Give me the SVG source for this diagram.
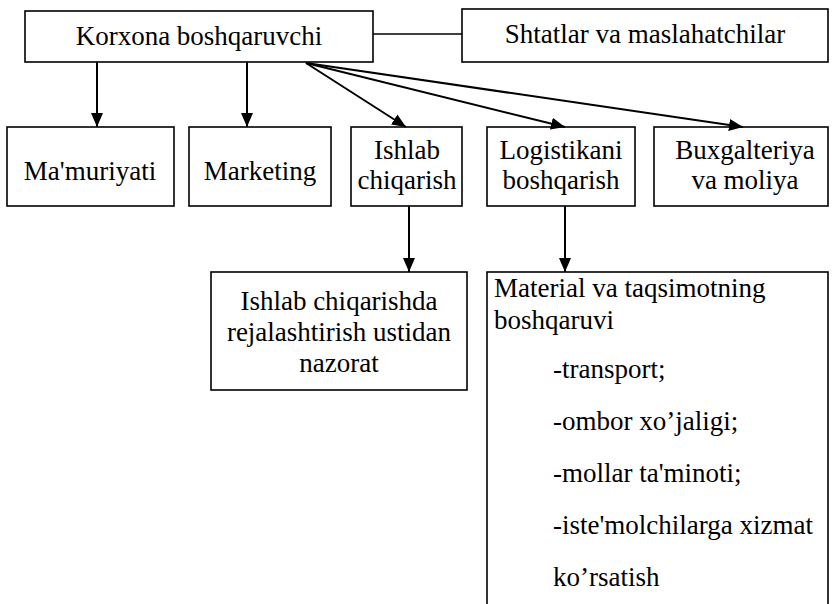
<svg xmlns="http://www.w3.org/2000/svg" width="832" height="604" viewBox="0 0 832 604">
<style>
.box{fill:#fff;stroke:#000;stroke-width:1.6}
.t{font-family:"Liberation Serif","Times New Roman",serif;font-size:27px;fill:#000}
.c{text-anchor:middle}
.con line{stroke:#000;stroke-width:2}
</style>
<defs>
<marker id="ah" markerUnits="userSpaceOnUse" markerWidth="14" markerHeight="12" refX="14" refY="6" orient="auto">
<path d="M0,0 L14,6 L0,12 z" fill="#000"/>
</marker>
</defs>
<rect width="832" height="604" fill="#fff"/>
<g id="n-korxona">
<rect class="box" x="25" y="11" width="348" height="51"/>
<text class="t c" x="199" y="45">Korxona boshqaruvchi</text>
</g>
<g id="n-shtatlar">
<rect class="box" x="462" y="9" width="366" height="53"/>
<text class="t c" x="645" y="43">Shtatlar va maslahatchilar</text>
</g>
<g id="n-mamuriyati">
<rect class="box" x="7" y="127" width="167" height="79"/>
<text class="t c" x="90" y="180">Ma'muriyati</text>
</g>
<g id="n-marketing">
<rect class="box" x="189" y="127" width="142" height="79"/>
<text class="t c" x="260" y="180">Marketing</text>
</g>
<g id="n-ishlab">
<rect class="box" x="351" y="127" width="111" height="79"/>
<text class="t c" x="407" y="159">Ishlab</text>
<text class="t c" x="407" y="189">chiqarish</text>
</g>
<g id="n-logistika">
<rect class="box" x="487" y="127" width="148" height="79"/>
<text class="t c" x="561" y="159">Logistikani</text>
<text class="t c" x="561" y="189">boshqarish</text>
</g>
<g id="n-buxgalteriya">
<rect class="box" x="654" y="127" width="174" height="79"/>
<text class="t c" x="745" y="159">Buxgalteriya</text>
<text class="t c" x="745" y="189">va moliya</text>
</g>
<g id="n-nazorat">
<rect class="box" x="211" y="272" width="256" height="118"/>
<text class="t c" x="339" y="310">Ishlab chiqarishda</text>
<text class="t c" x="339" y="341">rejalashtirish ustidan</text>
<text class="t c" x="339" y="372">nazorat</text>
</g>
<g id="n-material">
<rect class="box" x="487" y="272" width="341" height="350"/>
<text class="t" x="494" y="297">Material va taqsimotning</text>
<text class="t" x="494" y="329">boshqaruvi</text>
<text class="t" x="553" y="378">-transport;</text>
<text class="t" x="553" y="430">-ombor xo’jaligi;</text>
<text class="t" x="553" y="482">-mollar ta'minoti;</text>
<text class="t" x="553" y="534">-iste'molchilarga xizmat</text>
<text class="t" x="553" y="586">ko’rsatish</text>
</g>
<g id="connectors" class="con">
<line x1="373" y1="34" x2="462" y2="34" style="stroke-width:1.4"/>
<line x1="97" y1="62" x2="97" y2="127" marker-end="url(#ah)"/>
<line x1="247" y1="62" x2="247" y2="127" marker-end="url(#ah)"/>
<line x1="306" y1="63" x2="406" y2="127" marker-end="url(#ah)"/>
<line x1="306" y1="63" x2="565" y2="127" marker-end="url(#ah)"/>
<line x1="306" y1="63" x2="743" y2="127" marker-end="url(#ah)"/>
<line x1="409" y1="206" x2="409" y2="272" marker-end="url(#ah)"/>
<line x1="565" y1="206" x2="565" y2="272" marker-end="url(#ah)"/>
</g>
</svg>
